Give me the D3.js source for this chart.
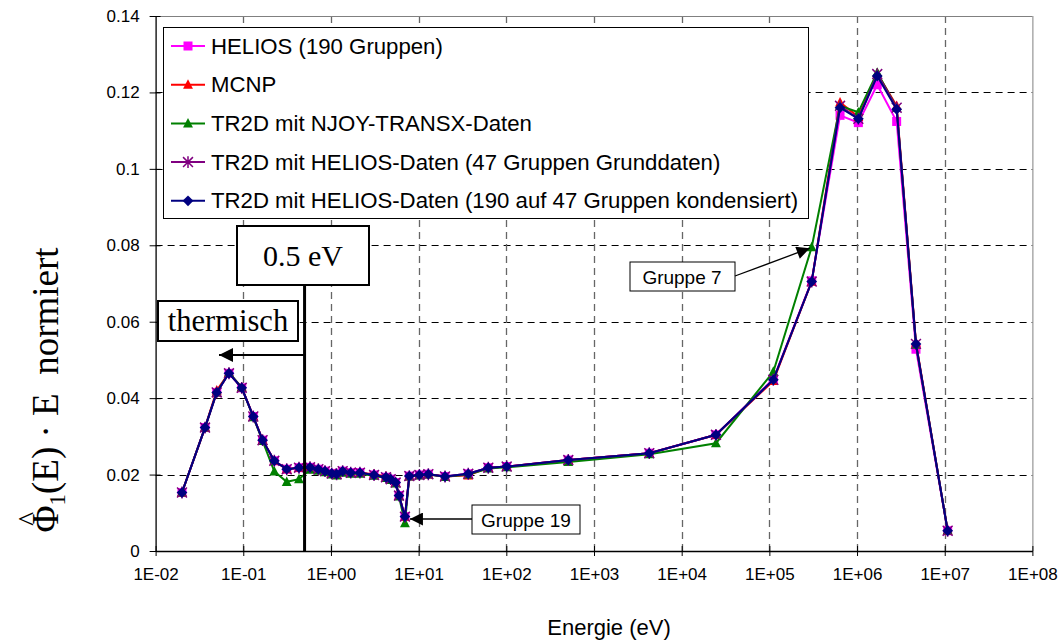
<!DOCTYPE html>
<html><head><meta charset="utf-8">
<script src="https://cdn.jsdelivr.net/npm/d3@7"></script>
<style>body{margin:0;background:#fff}svg{display:block}</style>
</head><body>
<svg id="c" width="1059" height="640"></svg>
<script>
// ---- data ----
const energies = [0.02,0.0366,0.0498,0.0687,0.096,0.13,0.166,0.226,0.313,0.432,0.577,0.718,0.855,1.02,1.16,1.36,1.68,2.14,3.10,4.24,4.80,5.47,5.97,6.98,7.83,10.2,12.9,20.0,36.8,62.3,101,509,4270,24600,111000,304000,640000,1.035e6,1.70e6,2.83e6,4.70e6,1.08e7];
const helios190 = [0.0153,0.0323,0.0415,0.0465,0.0427,0.0352,0.0290,0.0236,0.0214,0.0218,0.0219,0.0214,0.0209,0.0203,0.0201,0.0209,0.0205,0.0205,0.0199,0.0193,0.0188,0.0179,0.0145,0.0090,0.0196,0.0199,0.0201,0.0195,0.0202,0.0218,0.0221,0.0238,0.0256,0.0304,0.0450,0.0707,0.1140,0.1121,0.1220,0.1124,0.0528,0.0053];
const mcnp = [0.0153,0.0323,0.0420,0.0466,0.0428,0.0352,0.0290,0.0236,0.0214,0.0218,0.0219,0.0214,0.0209,0.0203,0.0201,0.0209,0.0205,0.0205,0.0201,0.0195,0.0188,0.0179,0.0145,0.0090,0.0196,0.0199,0.0201,0.0195,0.0198,0.0218,0.0221,0.0238,0.0256,0.0304,0.0445,0.0705,0.1174,0.1136,0.1250,0.1165,0.0545,0.0053];
const tr2dNjoy = [0.0153,0.0323,0.0415,0.0467,0.0428,0.0350,0.0288,0.0208,0.0181,0.0188,0.0213,0.0210,0.0206,0.0200,0.0198,0.0205,0.0202,0.0202,0.0197,0.0191,0.0186,0.0177,0.0143,0.0073,0.0195,0.0198,0.0200,0.0194,0.0200,0.0216,0.0219,0.0233,0.0253,0.0282,0.0469,0.0795,0.1165,0.1148,0.1252,0.1160,0.0540,0.0054];
const tr2dHelios47 = [0.0153,0.0323,0.0415,0.0465,0.0427,0.0352,0.0290,0.0236,0.0214,0.0218,0.0219,0.0214,0.0209,0.0203,0.0201,0.0209,0.0205,0.0205,0.0199,0.0193,0.0188,0.0179,0.0145,0.0090,0.0196,0.0199,0.0201,0.0195,0.0202,0.0218,0.0221,0.0238,0.0256,0.0304,0.0448,0.0705,0.1165,0.1131,0.1248,0.1160,0.0542,0.0053];
const tr2dHelios190 = [0.0153,0.0323,0.0415,0.0465,0.0427,0.0352,0.0290,0.0236,0.0214,0.0218,0.0219,0.0214,0.0209,0.0203,0.0201,0.0209,0.0205,0.0205,0.0199,0.0193,0.0188,0.0179,0.0145,0.0090,0.0196,0.0199,0.0201,0.0195,0.0202,0.0218,0.0221,0.0238,0.0256,0.0304,0.0448,0.0705,0.1160,0.1131,0.1243,0.1156,0.0542,0.0053];
const seriesNames = ["HELIOS (190 Gruppen)","MCNP","TR2D mit NJOY-TRANSX-Daten","TR2D mit HELIOS-Daten (47 Gruppen Grunddaten)","TR2D mit HELIOS-Daten (190 auf 47 Gruppen kondensiert)"];
const seriesColors = ["#ff00ff","#ff0000","#008000","#800080","#000080"];
const seriesMarkers = ["square","triangle","triangle","star","diamond"];
const xTicks = [1e-2,1e-1,1e0,1e1,1e2,1e3,1e4,1e5,1e6,1e7,1e8];
const xTickLabels = ["1E-02","1E-01","1E+00","1E+01","1E+02","1E+03","1E+04","1E+05","1E+06","1E+07","1E+08"];
const yTicks = [0,0.02,0.04,0.06,0.08,0.1,0.12,0.14];
const yTickLabels = ["0","0.02","0.04","0.06","0.08","0.1","0.12","0.14"];
const thresholdEnergy = 0.5;
const group19Index = 23, group7Index = 35;

// ---- chart ----
const svg = d3.select("#c");
const L=155.6, R=1032.4, T=16, B=551;
const x = d3.scaleLog().domain([1e-2,1e8]).range([L,R]);
const y = d3.scaleLinear().domain([0,0.14]).range([B,T]);
const sans = "'Liberation Sans', Arial, sans-serif";
const serif = "'Liberation Serif', 'Times New Roman', serif";

svg.append("rect").attr("width",1059).attr("height",640).attr("fill","#fff");

// grid
const g = svg.append("g");
g.selectAll(".hg").data(yTicks.slice(1,-1)).join("line")
 .attr("x1",L).attr("x2",R).attr("y1",d=>Math.round(y(d))+0.5).attr("y2",d=>Math.round(y(d))+0.5)
 .attr("stroke","#000").attr("stroke-width",1).attr("stroke-dasharray","7,5");
g.selectAll(".vg").data(xTicks.slice(1,-1)).join("line")
 .attr("x1",d=>Math.round(x(d))+0.5).attr("x2",d=>Math.round(x(d))+0.5).attr("y1",T).attr("y2",B)
 .attr("stroke","#666").attr("stroke-width",1.3).attr("stroke-dasharray","7,5");
// frame
svg.append("line").attr("x1",L).attr("x2",R).attr("y1",T+0.5).attr("y2",T+0.5).attr("stroke","#808080");
svg.append("line").attr("x1",R+0.5).attr("x2",R+0.5).attr("y1",T).attr("y2",B).attr("stroke","#808080");

// axes
const xAxis = d3.axisBottom(x).tickValues(xTicks).tickFormat((d,i)=>xTickLabels[i]).tickSizeInner(5).tickSizeOuter(0).tickPadding(12);
const xa = svg.append("g").attr("transform",`translate(0,${B})`).call(xAxis);
xa.select(".domain").attr("stroke","#000").attr("stroke-width",1.3);
xa.selectAll(".tick line").attr("y1",-5).attr("stroke","#000");
xa.selectAll("text").attr("font-family",sans).attr("font-size",17).attr("fill","#000");

const yAxis = d3.axisLeft(y).tickValues(yTicks).tickFormat((d,i)=>yTickLabels[i]).tickSizeInner(6).tickSizeOuter(0).tickPadding(10);
const ya = svg.append("g").attr("transform",`translate(${L},0)`).call(yAxis);
ya.select(".domain").attr("stroke","#000").attr("stroke-width",1.3);
ya.selectAll(".tick line").attr("x1",-6).attr("x2",5).attr("stroke","#000");
ya.selectAll("text").attr("font-family",sans).attr("font-size",17).attr("fill","#000");

// series
const allSeries = [helios190,mcnp,tr2dNjoy,tr2dHelios47,tr2dHelios190];
const line = d3.line().x(d=>x(d[0])).y(d=>y(d[1]));
function marker(sel,type,color,s){
  if(type==="square") sel.append("rect").attr("x",-s/2).attr("y",-s/2).attr("width",s).attr("height",s).attr("fill",color);
  else if(type==="triangle") sel.append("path").attr("d",`M0,${-s*0.6}L${s*0.55},${s*0.45}L${-s*0.55},${s*0.45}Z`).attr("fill",color);
  else if(type==="diamond") sel.append("path").attr("d",`M0,${-s*0.6}L${s*0.6},0L0,${s*0.6}L${-s*0.6},0Z`).attr("fill",color);
  else if(type==="star"){ const r=s*0.55;
    sel.append("path").attr("d",`M${-r},${-r}L${r},${r}M${-r},${r}L${r},${-r}M0,${-r*1.2}L0,${r*1.2}`).attr("stroke",color).attr("stroke-width",1.5).attr("fill","none");}
}
allSeries.forEach((vals,si)=>{
  const pts = energies.map((e,i)=>[e,vals[i]]);
  const sg = svg.append("g");
  sg.append("path").datum(pts).attr("d",line).attr("fill","none").attr("stroke",seriesColors[si]).attr("stroke-width",2);
  sg.selectAll("g.m").data(pts).join("g").attr("transform",d=>`translate(${x(d[0])},${y(d[1])})`)
    .each(function(){ marker(d3.select(this),seriesMarkers[si],seriesColors[si],9); });
});

// annotations
const defs = svg.append("defs");
defs.append("marker").attr("id","ah").attr("viewBox","0 0 10 10").attr("refX",10).attr("refY",5)
 .attr("markerWidth",8).attr("markerHeight",7).attr("markerUnits","strokeWidth").attr("orient","auto")
 .append("path").attr("d","M0,0L10,5L0,10Z").attr("fill","#000");
defs.append("marker").attr("id","ah2").attr("viewBox","0 0 10 10").attr("refX",10).attr("refY",5)
 .attr("markerWidth",14).attr("markerHeight",10).attr("markerUnits","strokeWidth").attr("orient","auto")
 .append("path").attr("d","M0,0L10,5L0,10Z").attr("fill","#000");

const xT = x(thresholdEnergy);
svg.append("line").attr("x1",xT).attr("x2",xT).attr("y1",285).attr("y2",B).attr("stroke","#000").attr("stroke-width",3);
svg.append("rect").attr("x",237).attr("y",226).attr("width",132).attr("height",59).attr("fill","#fff").attr("stroke","#000").attr("stroke-width",2);
svg.append("text").attr("x",303).attr("y",266).attr("text-anchor","middle").attr("font-family",serif).attr("font-size",30).text("0.5 eV");
svg.append("rect").attr("x",158).attr("y",301).attr("width",140).attr("height",40).attr("fill","#fff").attr("stroke","#000").attr("stroke-width",2);
svg.append("text").attr("x",228).attr("y",331).attr("text-anchor","middle").attr("font-family",serif).attr("font-size",30.5).text("thermisch");
svg.append("line").attr("x1",xT).attr("x2",219).attr("y1",355).attr("y2",355).attr("stroke","#000").attr("stroke-width",2).attr("marker-end","url(#ah)");

// Gruppe 19
const g19x = x(energies[group19Index]), g19y = y(tr2dNjoy[group19Index]);
svg.append("rect").attr("x",472).attr("y",505).attr("width",108).attr("height",29).attr("fill","#fff").attr("stroke","#000").attr("stroke-width",1);
svg.append("text").attr("x",526).attr("y",527).attr("text-anchor","middle").attr("font-family",sans).attr("font-size",19).text("Gruppe 19");
svg.append("line").attr("x1",472).attr("x2",g19x+5).attr("y1",519).attr("y2",519).attr("stroke","#000").attr("stroke-width",1.3).attr("marker-end","url(#ah2)");
// Gruppe 7
const g7x = x(energies[group7Index]), g7y = y(tr2dNjoy[group7Index]);
svg.append("rect").attr("x",630).attr("y",262).attr("width",105).attr("height",29).attr("fill","#fff").attr("stroke","#000").attr("stroke-width",1);
svg.append("text").attr("x",682).attr("y",284).attr("text-anchor","middle").attr("font-family",sans).attr("font-size",19).text("Gruppe 7");
svg.append("line").attr("x1",735).attr("x2",g7x-2).attr("y1",276).attr("y2",g7y+1).attr("stroke","#000").attr("stroke-width",1.3).attr("marker-end","url(#ah2)");

// legend
const lg = svg.append("g");
lg.append("rect").attr("x",163.5).attr("y",27.5).attr("width",645).attr("height",191).attr("fill","#fff").attr("stroke","#000");
seriesNames.forEach((n,i)=>{
  const yy = 46 + i*38.7;
  lg.append("line").attr("x1",171).attr("x2",205).attr("y1",yy).attr("y2",yy).attr("stroke",seriesColors[i]).attr("stroke-width",2);
  const mg = lg.append("g").attr("transform",`translate(188,${yy})`);
  marker(mg,seriesMarkers[i],seriesColors[i],9);
  lg.append("text").attr("x",211).attr("y",yy+7.5).attr("font-family",sans).attr("font-size",22.2).attr("fill","#000").text(n);
});

// axis titles
svg.append("text").attr("x",609).attr("y",635).attr("text-anchor","middle").attr("font-family",sans).attr("font-size",22).text("Energie (eV)");
const ylg = svg.append("g").attr("transform","translate(58,390) rotate(-90)");
const yl = ylg.append("text").attr("text-anchor","middle").attr("font-family",serif).attr("font-size",37);
yl.append("tspan").text("Φ");
yl.append("tspan").attr("font-size",23).attr("dy",7).text("1");
yl.append("tspan").attr("dy",-7).text("(E)\u00A0·\u00A0E\u00A0\u00A0normiert");
// circumflex above Φ
const phiBox = yl.node().getExtentOfChar(0);
ylg.append("text").attr("x",phiBox.x+phiBox.width/2).attr("y",-19).attr("text-anchor","middle")
  .attr("font-family",serif).attr("font-size",30).text("^");
</script>
</body></html>
